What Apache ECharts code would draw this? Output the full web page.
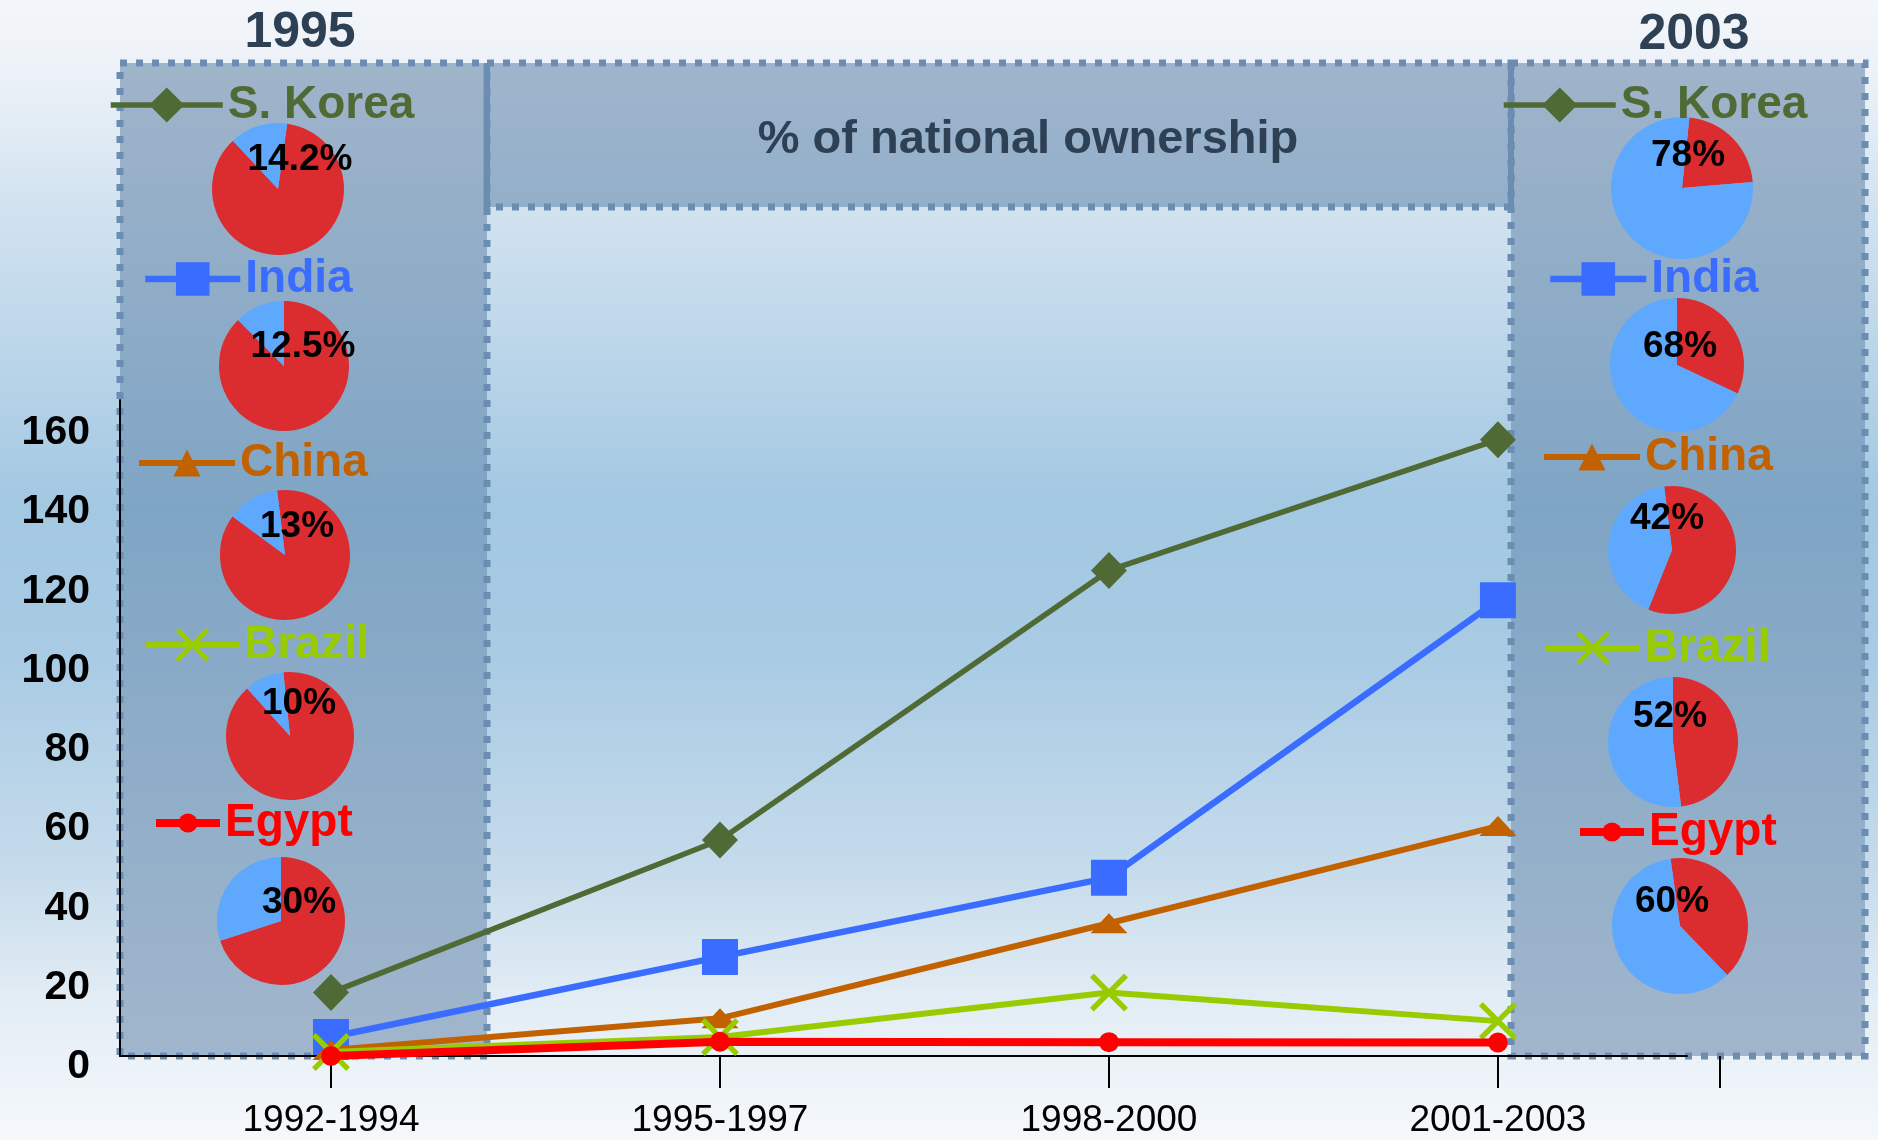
<!DOCTYPE html>
<html lang="en">
<head>
	<meta charset="UTF-8">
	<title>% of national ownership</title>
	<script src="https://cdn.jsdelivr.net/npm/echarts@6/dist/echarts.min.js"></script>
	<style>
		html, body { margin: 0; padding: 0; }
		#main { width: 1878px; height: 1140px; }
	</style>
</head>
<body>
	<div id="main"></div>
	<script>
		// data
		var periods = ['1992-1994', '1995-1997', '1998-2000', '2001-2003'];
		var countries = ['S. Korea', 'India', 'China', 'Brazil', 'Egypt'];
		var sKorea = [16, 54.5, 122.5, 155.5];
		var india = [4.8, 25, 45, 115];
		var china = [1.5, 9.5, 33.5, 58];
		var brazil = [1, 4.8, 16, 8.8];
		var egypt = [0, 3.6, 3.5, 3.4];
		var share1995 = [14.2, 12.5, 13, 10, 30];
		var share2003 = [78, 68, 42, 52, 60];

		var FONT = '"Liberation Sans", Arial, sans-serif';
		var colors = ['#4F6A34', '#3A6DFF', '#C26100', '#99CC00', '#FF0000'];
		var crossPath = 'path://M0,1 L1,0 L5,4 L9,0 L10,1 L6,5 L10,9 L9,10 L5,6 L1,10 L0,9 L4,5 Z';
		var symbols = ['diamond', 'rect', 'triangle', crossPath, 'circle'];
		var symbolSizes = [[36, 37], 36, [37, 20], 38, 20];
		var lineWidths = [5.5, 6.5, 6, 6, 8];
		var values = [sKorea, india, china, brazil, egypt];
		var pieRed = '#DB2C2F', pieBlue = '#5EA8FE';

		// layout of the side panels: [x, y, radius, startAngle]
		var pies1995 = [[278, 189, 66, 82], [284, 366, 65, 90], [285, 555, 65, 97], [290, 736, 64, 96], [281, 921, 64, 90]];
		var pies2003 = [[1682, 188, 71, 84], [1677, 365, 67, 90], [1672, 550, 64, 97], [1673, 742, 65, 90], [1680, 926, 68, 98]];
		var pieLabels1995 = [[300, 160], [303, 347], [297, 527], [299, 704], [299, 903]];
		var pieLabels2003 = [[1688, 156], [1680, 347], [1667, 519], [1670, 717], [1672, 902]];
		// legends: [lineLeft, lineWidth, centerY, iconHeight]
		var legends1995 = [[108, 112, 105, 44], [142, 95, 279, 42], [136, 96, 463, 34], [143, 93, 645, 42], [152, 64, 823, 24]];
		var legends2003 = [[1501, 112, 105, 44], [1547, 96, 279, 42], [1541, 96, 457, 34], [1543, 94, 648, 42], [1576, 64, 832, 24]];

		var myChart = echarts.init(document.getElementById('main'));

		var series = [];
		countries.forEach(function (name, i) {
			series.push({
				type: 'line',
				name: name,
				data: values[i].map(function (v, j) { return [j, v]; }),
				symbol: symbols[i],
				symbolSize: symbolSizes[i],
				showSymbol: true,
				clip: false,
				silent: true,
				z: 3 + i,
				lineStyle: { color: colors[i], width: lineWidths[i] },
				itemStyle: { color: colors[i] }
			});
		});

		function addPies(shares, layout) {
			shares.forEach(function (p, i) {
				var l = layout[i];
				series.push({
					type: 'pie',
					center: [l[0], l[1]],
					radius: l[2],
					startAngle: l[3],
					silent: true,
					z: 2,
					label: { show: false },
					labelLine: { show: false },
					data: [
						{ value: 100 - p, itemStyle: { color: pieRed } },
						{ value: p, itemStyle: { color: pieBlue } }
					]
				});
			});
		}
		addPies(share1995, pies1995);
		addPies(share2003, pies2003);

		var legend = [];
		function addLegends(layout) {
			countries.forEach(function (name, i) {
				var l = layout[i];
				legend.push({
					data: [name],
					left: l[0],
					top: l[2] - 23,
					padding: 0,
					selectedMode: false,
					itemWidth: l[1],
					itemHeight: l[3],
					lineStyle: { width: lineWidths[i] },
					textStyle: {
						color: colors[i], fontSize: 46, fontWeight: 'bold',
						fontFamily: FONT, lineHeight: 46
					}
				});
			});
		}
		addLegends(legends1995);
		addLegends(legends2003);

		function boxFill(top, mid, bottom) {
			return {
				type: 'linear', x: 0, y: 0, x2: 0, y2: 1,
				colorStops: [
					{ offset: 0, color: top },
					{ offset: 0.45, color: mid },
					{ offset: 1, color: bottom }
				]
			};
		}
		var dotted = { stroke: '#6A8DB1', lineWidth: 7, lineDash: [7, 9] };

		var graphics = [
			{
				type: 'rect', z: -20, silent: true,
				shape: { x: 0, y: 0, width: 1878, height: 1140 },
				style: {
					fill: {
						type: 'linear', x: 0, y: 0, x2: 0, y2: 1,
						colorStops: [
							{ offset: 0, color: '#F3F6FA' },
							{ offset: 0.06, color: '#EDF2F8' },
							{ offset: 0.18, color: '#D2E3F0' },
							{ offset: 0.44, color: '#A3C8E2' },
							{ offset: 0.58, color: '#A9CBE4' },
							{ offset: 0.76, color: '#C5DBEB' },
							{ offset: 0.88, color: '#E3EDF5' },
							{ offset: 1, color: '#F5F8FB' }
						]
					}
				}
			},
			{
				type: 'rect', z: -10, silent: true,
				shape: { x: 120, y: 63, width: 367, height: 993 },
				style: Object.assign({ fill: boxFill('#A0B4CA', '#7FA5C5', '#A1B6CC') }, dotted)
			},
			{
				type: 'rect', z: -10, silent: true,
				shape: { x: 1511, y: 63, width: 354, height: 993 },
				style: Object.assign({ fill: boxFill('#A0B4CA', '#7FA5C5', '#A1B6CC') }, dotted)
			},
			{
				type: 'rect', z: -10, silent: true,
				shape: { x: 487, y: 63, width: 1024, height: 144 },
				style: Object.assign({
					fill: {
						type: 'linear', x: 0, y: 0, x2: 0, y2: 1,
						colorStops: [{ offset: 0, color: '#A0B5CC' }, { offset: 1, color: '#92AFCA' }]
					}
				}, dotted)
			},
			{
				type: 'line', z: -9, silent: true,
				shape: { x1: 487, y1: 63, x2: 487, y2: 210 },
				style: { stroke: '#6A8DB1', lineWidth: 6 }
			},
			{
				type: 'line', z: -9, silent: true,
				shape: { x1: 1511, y1: 63, x2: 1511, y2: 210 },
				style: { stroke: '#6A8DB1', lineWidth: 6 }
			},
			{
				type: 'line', z: 1, silent: true,
				shape: { x1: 1720, y1: 1056, x2: 1720, y2: 1088 },
				style: { stroke: '#000', lineWidth: 2 }
			},
			{
				type: 'text', z: 100, silent: true, x: 300, y: 33,
				style: { text: '1995', font: 'bold 50px ' + FONT, fill: '#2E4053', align: 'center', verticalAlign: 'middle' }
			},
			{
				type: 'text', z: 100, silent: true, x: 1694, y: 35,
				style: { text: '2003', font: 'bold 50px ' + FONT, fill: '#2E4053', align: 'center', verticalAlign: 'middle' }
			},
			{
				type: 'text', z: 100, silent: true, x: 1028, y: 140,
				style: { text: '% of national ownership', font: 'bold 47px ' + FONT, fill: '#2E4053', align: 'center', verticalAlign: 'middle' }
			}
		];

		function addPieLabels(shares, layout) {
			shares.forEach(function (p, i) {
				graphics.push({
					type: 'text', z: 100, silent: true, x: layout[i][0], y: layout[i][1],
					style: { text: p + '%', font: 'bold 37px ' + FONT, fill: '#000', align: 'center', verticalAlign: 'middle' }
				});
			});
		}
		addPieLabels(share1995, pieLabels1995);
		addPieLabels(share2003, pieLabels2003);

		var option = {
			animation: false,
			textStyle: { fontFamily: FONT },
			grid: { left: 120, right: 191, top: 400, bottom: 84, outerBoundsMode: 'none' },
			xAxis: {
				type: 'value',
				min: -0.5424,
				max: 3.486,
				splitLine: { show: false },
				axisLine: { show: true, onZero: false, lineStyle: { color: '#000', width: 2 } },
				axisTick: { show: true, customValues: [0, 1, 2, 3], length: 32, lineStyle: { color: '#000', width: 2 } },
				axisLabel: {
					customValues: [0, 1, 2, 3],
					formatter: function (v) { return periods[Math.round(v)]; },
					color: '#000', fontSize: 37, fontFamily: FONT, margin: 46
				}
			},
			yAxis: {
				type: 'value',
				min: 0,
				max: 165.5,
				interval: 20,
				splitLine: { show: false },
				axisTick: { show: false },
				axisLine: { show: true, onZero: false, lineStyle: { color: '#000', width: 2 } },
				axisLabel: {
					formatter: function (v) { return v % 20 === 0 ? String(v) : ''; },
					color: '#000', fontSize: 41, fontWeight: 'bold', fontFamily: FONT,
					margin: 30, verticalAlign: 'top', lineHeight: 22
				}
			},
			legend: legend,
			graphic: graphics,
			series: series
		};

		myChart.setOption(option);
	</script>
</body>
</html>
